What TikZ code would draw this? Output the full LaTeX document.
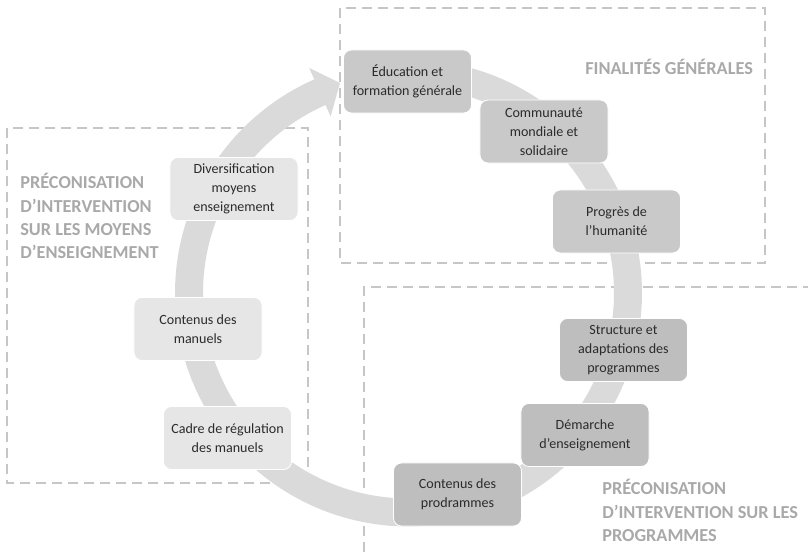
\documentclass[tikz,border=0pt]{standalone}
\usepackage{fontspec}
\setmainfont{Carlito}
\definecolor{textdark}{HTML}{2B2B2B}
\definecolor{cardmid}{HTML}{C9C9C9}
\definecolor{carddark}{HTML}{BEBEBE}
\definecolor{cardlight}{HTML}{E6E6E6}
\definecolor{ringgrey}{HTML}{DADADA}
\definecolor{zoneline}{HTML}{C6C6C6}
\definecolor{headgrey}{HTML}{A9A9A9}

\begin{document}
\begin{tikzpicture}[
  x=0.025cm,
  y=-0.025cm,
  every node/.style={font=\fontsize{10}{13.5}\selectfont, textdark},
  stepcard/.style={rounded corners=0.2cm, draw=white, line width=0.6pt,
    minimum width=3.2cm, minimum height=1.575cm, align=center, inner sep=2pt},
  aimcard/.style={stepcard, fill=cardmid},
  progcard/.style={stepcard, fill=carddark},
  toolcard/.style={stepcard, fill=cardlight},
  zone/.style={zoneline, line width=1.3pt, dash pattern=on 0.25cm off 0.15cm},
  heading/.style={font=\fontsize{13}{16.5}\selectfont\bfseries, headgrey,
    align=left, inner sep=0pt},
  ring/.style={ringgrey, line width=0.7cm}
]
  \useasboundingbox (0,0) rectangle (808,552);

  % ---- dashed zones -------------------------------------------------------
  \draw[zone] (340,8) rectangle (765,263);
  \draw[zone] (7,128) rectangle (308,483);
  \draw[zone] (364,552) -- (364,287) -- (808,287);

  % ---- the cycle arrow ----------------------------------------------------
  \draw[ring] plot[domain=-100:247, samples=120, smooth]
    ({408.5+219.5*cos(\x)},{293+219.5*sin(\x)});
  \fill[ringgrey] (309.2,67.9) -- (340,83) -- (330.6,116.4) -- cycle;

  % ---- finalites ----------------------------------------------------------
  \node[aimcard] (educ) at (407.5,81.5) {Éducation et\\formation générale};
  \node[aimcard] (monde) at (544,131.5) {Communauté\\mondiale et\\solidaire};
  \node[aimcard] (progres) at (616.5,221.5) {Progrès de\\l’humanité};

  % ---- programmes ---------------------------------------------------------
  \node[progcard] (structure) at (623.5,350) {Structure et\\adaptations des\\programmes};
  \node[progcard] (demarche) at (585,435) {Démarche\\d’enseignement};
  \node[progcard] (contprog) at (457.5,494.5) {Contenus des\\prodrammes};

  % ---- moyens d'enseignement ----------------------------------------------
  \node[toolcard] (cadre) at (227.5,438) {Cadre de régulation\\des manuels};
  \node[toolcard] (contman) at (198,329) {Contenus des\\manuels};
  \node[toolcard] (divers) at (234,189) {Diversification\\moyens\\enseignement};

  % ---- zone titles --------------------------------------------------------
  \node[heading, anchor=west] (finalites) at (585,67) {FINALITÉS GÉNÉRALES};
  \node[heading, anchor=west] (moyens) at (20,216)
    {PRÉCONISATION\\D’INTERVENTION\\SUR LES MOYENS\\D’ENSEIGNEMENT};
  \node[heading, anchor=west] (programmes) at (602,510.5)
    {PRÉCONISATION\\D’INTERVENTION SUR LES\\PROGRAMMES};
\end{tikzpicture}
\end{document}
